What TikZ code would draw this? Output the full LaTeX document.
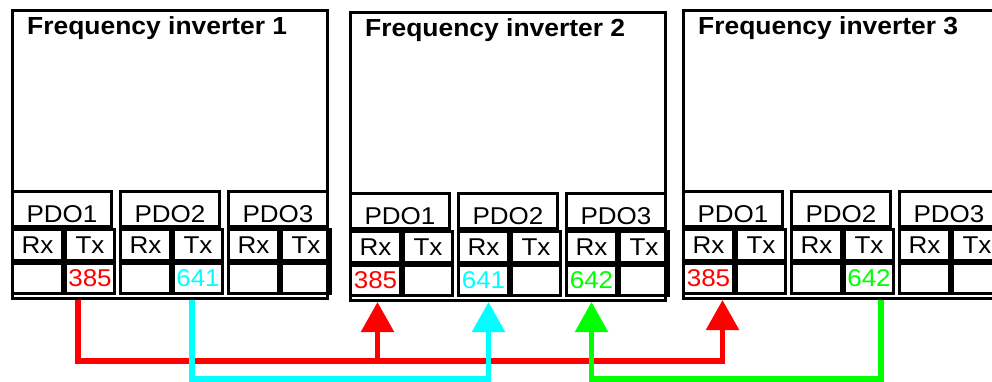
\documentclass[tikz,border=0pt]{standalone}
\usepackage{fontspec}
\setmainfont{Liberation Sans}[FakeStretch=1.07]
\usetikzlibrary{positioning, calc, arrows.meta}

\definecolor{busred}{RGB}{255,0,0}
\definecolor{buscyan}{RGB}{0,255,255}
\definecolor{busgreen}{RGB}{0,255,0}

\tikzset{
  cell/.style={draw, line width=3pt, rectangle, inner sep=0pt, anchor=north west, font=\fontsize{24.3}{25}\selectfont},
  inverter/.style={draw, line width=3pt, rectangle, inner sep=0pt, anchor=north west, minimum width=315pt, minimum height=288pt},
  title/.style={inner sep=0pt, anchor=base west, font=\fontsize{24.7}{25}\selectfont\bfseries},
  valtext/.style={inner sep=0pt, font=\fontsize{24.3}{25}\selectfont},
  bus/.style={line width=5.5pt, -{Triangle[width=32pt, length=30pt]}},
}

\begin{document}
\begin{tikzpicture}[x=1pt, y=-1pt]
	\clip (0,0) rectangle (992,382); % picture frame
	
	% Inverters with their PDO tables
	\foreach \i/\x/\y in {1/11/9, 2/349/11, 3/682/9}{
		\node[inverter] (inv\i) at (\x,\y) {};
		\node[title] (title\i) at ($(inv\i.north west)+(16,26)$) {Frequency inverter \i};
		\foreach \j/\dx in {1/0, 2/108, 3/216}{
			\node[cell, minimum width=99pt, minimum height=35pt, text height=26pt, text depth=0pt] (pdo\i\j) at ($(inv\i.north west)+(\dx,181)$) {PDO\j};
			\node[cell, minimum width=50pt, minimum height=31pt] (rx\i\j) at (pdo\i\j.south west) {Rx};
			\node[cell, minimum width=49pt, minimum height=31pt] (tx\i\j) at (rx\i\j.north east) {Tx};
			\node[cell, minimum width=50pt, minimum height=30pt] (rxv\i\j) at (rx\i\j.south west) {};
			\node[cell, minimum width=49pt, minimum height=30pt] (txv\i\j) at (rxv\i\j.north east) {};
		}
	}
	
	% COB-IDs in the cells
	\node[valtext, text=busred] (v1) at (txv11) {385};
	\node[valtext, text=buscyan] (v2) at (txv12) {641};
	\node[valtext, text=busred] (v3) at (rxv21) {385};
	\node[valtext, text=buscyan] (v4) at (rxv22) {641};
	\node[valtext, text=busgreen] (v5) at (rxv23) {642};
	\node[valtext, text=busred] (v6) at (rxv31) {385};
	\node[valtext, text=busgreen] (v7) at (txv32) {642};
	
	% Bus levels
	\coordinate (redbus) at (0,361);
	\coordinate (cyanbus) at (0,379);
	\coordinate (greenbus) at (0,379);
	
	% Connections
	\draw[bus, busred] ($(txv11.center |- inv1.south)+(-12,0)$) |- ($(rxv31.center |- redbus)+(14,0)$) -- ($(rxv31.center |- inv3.south)+(14,0)$);
	\draw[bus, busred] ($(rxv21.center |- redbus)+(2,0)$) -- ($(rxv21.center |- inv2.south)+(2,0)$);
	\draw[bus, buscyan] ($(txv12.center |- inv1.south)+(-6,0)$) |- ($(rxv22.center |- cyanbus)+(5,0)$) -- ($(rxv22.center |- inv2.south)+(5,0)$);
	\draw[bus, busgreen] ($(txv32.center |- inv3.south)+(12,0)$) |- (rxv23.center |- greenbus) -- (rxv23.center |- inv2.south);
	
\end{tikzpicture}
\end{document}
